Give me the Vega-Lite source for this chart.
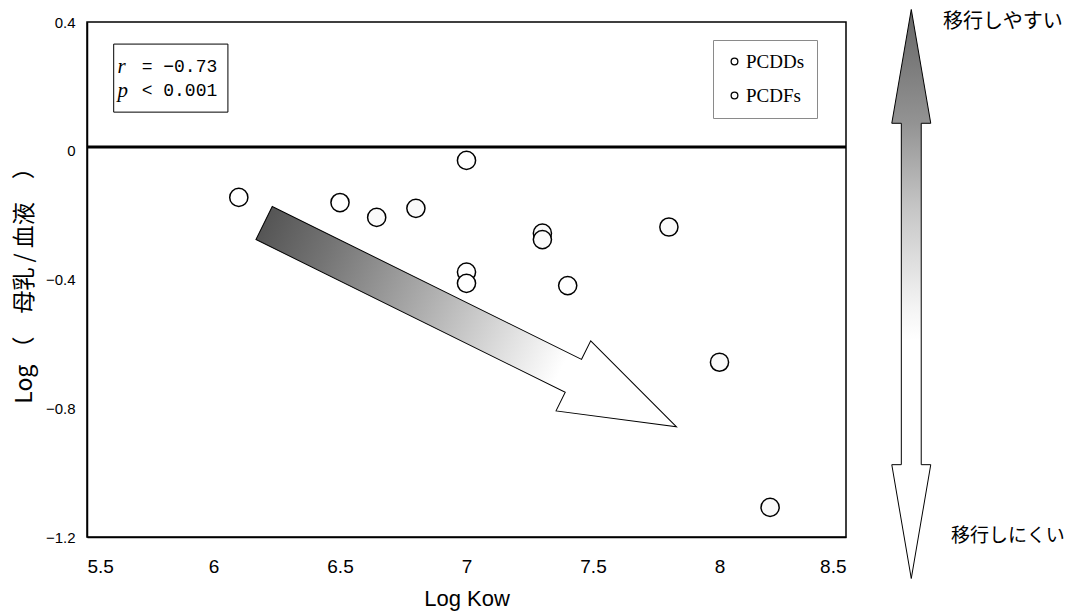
{
  "$schema": "https://vega.github.io/schema/vega-lite/v6.json",
  "width": 759,
  "height": 515,
  "autosize": {"type": "none"},
  "padding": {"left": 87, "top": 22, "right": 222, "bottom": 78},
  "background": "white",
  "config": {
    "view": {"stroke": "black", "strokeWidth": 1.5},
    "axis": {"grid": false, "domainColor": "black", "domainWidth": 1.5, "ticks": false, "labelColor": "black", "titleColor": "black", "titleFontWeight": "normal"}
  },
  "datasets": {
    "pts": [
      {"logKow": 6.1, "ratio": -0.145, "type": "PCDDs"},
      {"logKow": 6.5, "ratio": -0.161, "type": "PCDDs"},
      {"logKow": 6.645, "ratio": -0.207, "type": "PCDFs"},
      {"logKow": 6.8, "ratio": -0.179, "type": "PCDFs"},
      {"logKow": 7.0, "ratio": -0.03, "type": "PCDDs"},
      {"logKow": 7.0, "ratio": -0.377, "type": "PCDDs"},
      {"logKow": 7.0, "ratio": -0.412, "type": "PCDDs"},
      {"logKow": 7.3, "ratio": -0.256, "type": "PCDFs"},
      {"logKow": 7.3, "ratio": -0.276, "type": "PCDFs"},
      {"logKow": 7.4, "ratio": -0.419, "type": "PCDDs"},
      {"logKow": 7.8, "ratio": -0.237, "type": "PCDFs"},
      {"logKow": 8.0, "ratio": -0.657, "type": "PCDFs"},
      {"logKow": 8.2, "ratio": -1.108, "type": "PCDFs"}
    ],
    "one": [{}]
  },
  "encoding": {
    "x": {"type": "quantitative", "scale": {"domain": [5.5, 8.5], "nice": false, "zero": false},
      "axis": {"values": [5.5, 6, 6.5, 7, 7.5, 8, 8.5], "format": ".1~f", "labelFont": "Liberation Sans", "labelFontSize": 19, "labelPadding": 20, "title": "Log Kow", "titleFont": "Liberation Sans", "titleFontSize": 22, "titlePadding": 12}},
    "y": {"type": "quantitative", "scale": {"domain": [-1.2, 0.4], "nice": false, "zero": false},
      "axis": {"values": [-1.2, -0.8, -0.4, 0, 0.4], "format": ".1~f", "labelFont": "Liberation Sans", "labelFontSize": 15, "labelPadding": 12, "title": "Log （　母乳 / 血液　）", "titleFont": "Noto Sans CJK JP", "titleFontSize": 23, "titlePadding": 9}}
  },
  "layer": [
    {
      "data": {"name": "one"},
      "mark": {"type": "rule", "color": "black", "strokeWidth": 3},
      "encoding": {"y": {"datum": 0.012}}
    },
    {
      "data": {"name": "one"},
      "mark": {"type": "rect", "fill": "white", "stroke": "black", "strokeWidth": 1},
      "encoding": {"x": {"datum": 5.6055}, "x2": {"datum": 6.057}, "y": {"datum": 0.3314}, "y2": {"datum": 0.12}}
    },
    {
      "data": {"values": [{"t": "r", "yy": 0.26}, {"t": "p", "yy": 0.185}]},
      "mark": {"type": "text", "align": "left", "baseline": "middle", "font": "Liberation Serif", "fontStyle": "italic", "fontSize": 21, "color": "black"},
      "encoding": {"x": {"datum": 5.621}, "y": {"field": "yy", "type": "quantitative"}, "text": {"field": "t"}}
    },
    {
      "data": {"values": [{"t": "= −0.73", "yy": 0.26}, {"t": "< 0.001", "yy": 0.185}]},
      "mark": {"type": "text", "align": "left", "baseline": "middle", "font": "Liberation Mono", "fontSize": 18, "color": "black"},
      "encoding": {"x": {"datum": 5.716}, "y": {"field": "yy", "type": "quantitative"}, "text": {"field": "t"}}
    },
    {
      "data": {"name": "one"},
      "mark": {"type": "point", "filled": true, "opacity": 1,
        "shape": "M-1,-0.08L0.5,-0.08L0.5,-0.17L1,0L0.5,0.17L0.5,0.08L-1,0.08Z",
        "size": 211600, "angle": 26.3, "stroke": "black", "strokeWidth": 1,
        "fill": {"gradient": "linear", "x1": 0, "y1": 0, "x2": 1, "y2": 0,
          "stops": [{"offset": 0, "color": "#555555"}, {"offset": 0.15, "color": "#747474"}, {"offset": 0.4, "color": "#b0b0b0"}, {"offset": 0.6, "color": "#e2e2e2"}, {"offset": 0.72, "color": "#ffffff"}, {"offset": 1, "color": "#ffffff"}]}},
      "encoding": {"x": {"datum": 7.015}, "y": {"datum": -0.541}}
    },
    {
      "data": {"name": "one"},
      "mark": {"type": "point", "filled": true, "opacity": 1,
        "shape": "M0,-1L0.0685,-0.6L0.035,-0.6L0.035,0.6L0.0685,0.6L0,1L-0.0685,0.6L-0.035,0.6L-0.035,-0.6L-0.0685,-0.6Z",
        "size": 323761, "stroke": "black", "strokeWidth": 1,
        "fill": {"gradient": "linear", "x1": 0, "y1": 0, "x2": 0, "y2": 1,
          "stops": [{"offset": 0, "color": "#666666"}, {"offset": 0.2, "color": "#939393"}, {"offset": 0.35, "color": "#c6c6c6"}, {"offset": 0.52, "color": "#f3f3f3"}, {"offset": 0.58, "color": "#ffffff"}, {"offset": 1, "color": "#ffffff"}]}},
      "encoding": {"x": {"datum": 8.758}, "y": {"datum": -0.445}}
    },
    {
      "data": {"values": [{"t": "移行しやすい"}]},
      "mark": {"type": "text", "align": "right", "baseline": "middle", "font": "Noto Sans CJK JP", "fontSize": 20, "color": "black"},
      "encoding": {"x": {"datum": 9.3565}, "y": {"datum": 0.399}, "text": {"field": "t"}}
    },
    {
      "data": {"values": [{"t": "移行しにくい"}]},
      "mark": {"type": "text", "align": "right", "baseline": "middle", "font": "Noto Sans CJK JP", "fontSize": 19, "color": "black"},
      "encoding": {"x": {"datum": 9.3644}, "y": {"datum": -1.196}, "text": {"field": "t"}}
    },
    {
      "data": {"name": "pts"},
      "mark": {"type": "point", "shape": "circle", "filled": true, "opacity": 1, "size": 330, "stroke": "black", "strokeWidth": 1.5},
      "encoding": {
        "x": {"field": "logKow", "type": "quantitative"},
        "y": {"field": "ratio", "type": "quantitative"},
        "fill": {"field": "type", "type": "nominal", "scale": {"domain": ["PCDDs", "PCDFs"], "range": ["#ffffff", "#fafafa"]},
          "legend": {"title": null, "orient": "none", "legendX": 626, "legendY": 18, "labelFont": "Liberation Serif", "labelFontSize": 19, "labelColor": "black", "symbolSize": 45, "symbolStrokeColor": "black", "symbolStrokeWidth": 1.3, "symbolType": "circle", "padding": 12, "rowPadding": 14, "labelOffset": 2, "strokeColor": "#8a8a8a", "fillColor": "white"}}
      }
    }
  ]
}
